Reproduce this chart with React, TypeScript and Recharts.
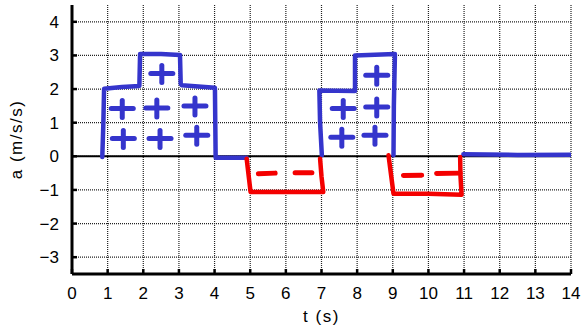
import React from 'react';
import {
  ComposedChart,
  Line,
  Scatter,
  XAxis,
  YAxis,
  CartesianGrid,
  ReferenceLine,
  Label,
} from 'recharts';

// Hand-drawn acceleration trace a(t): positive blocks in blue, negative blocks in red.
const blueStroke1 = [
  { t: 0.85, a: -0.02 },
  { t: 0.88, a: 1.0 },
  { t: 0.9, a: 2.01 },
  { t: 1.4, a: 2.06 },
  { t: 1.89, a: 2.09 },
  { t: 1.91, a: 3.04 },
  { t: 2.5, a: 3.04 },
  { t: 3.03, a: 3.01 },
  { t: 3.05, a: 2.16 },
  { t: 3.08, a: 2.11 },
  { t: 4.01, a: 2.04 },
  { t: 4.02, a: 1.0 },
  { t: 4.03, a: -0.04 },
  { t: 4.5, a: -0.04 },
  { t: 4.9, a: -0.04 },
];
const redStroke1 = [
  { t: 4.9, a: -0.07 },
  { t: 5.01, a: -1.06 },
  { t: 6.0, a: -1.06 },
  { t: 7.05, a: -1.06 },
  { t: 7.0, a: -0.6 },
  { t: 6.96, a: -0.07 },
];
const blueStroke2 = [
  { t: 7.01, a: 0.03 },
  { t: 6.96, a: 1.0 },
  { t: 6.94, a: 1.96 },
  { t: 7.94, a: 1.94 },
  { t: 7.94, a: 3.0 },
  { t: 8.5, a: 3.02 },
  { t: 9.06, a: 3.04 },
  { t: 9.03, a: 1.5 },
  { t: 9.02, a: 0.03 },
];
const redStroke2 = [
  { t: 8.88, a: 0.03 },
  { t: 9.02, a: -1.11 },
  { t: 10.0, a: -1.11 },
  { t: 10.93, a: -1.14 },
  { t: 10.9, a: -0.6 },
  { t: 10.89, a: -0.02 },
];
const blueStroke3 = [
  { t: 10.98, a: 0.06 },
  { t: 12.5, a: 0.04 },
  { t: 14.02, a: 0.05 },
];

// "+" marks inside the positive blocks
const plusMarks = [
  { t: 1.41, a: 1.42 },
  { t: 2.38, a: 1.44 },
  { t: 3.45, a: 1.5 },
  { t: 1.44, a: 0.53 },
  { t: 2.47, a: 0.53 },
  { t: 3.5, a: 0.63 },
  { t: 2.52, a: 2.46 },
  { t: 8.55, a: 2.41 },
  { t: 7.61, a: 1.42 },
  { t: 8.55, a: 1.47 },
  { t: 7.57, a: 0.57 },
  { t: 8.5, a: 0.63 },
];

// "−" dashes inside the negative blocks
const minusDashes = [
  [{ t: 5.23, a: -0.52 }, { t: 5.7, a: -0.5 }],
  [{ t: 6.26, a: -0.49 }, { t: 6.73, a: -0.49 }],
  [{ t: 9.3, a: -0.57 }, { t: 9.81, a: -0.56 }],
  [{ t: 10.23, a: -0.51 }, { t: 10.89, a: -0.5 }],
];

const xTicks = [0, 1, 2, 3, 4, 5, 6, 7, 8, 9, 10, 11, 12, 13, 14];
const yTicks = [-3, -2, -1, 0, 1, 2, 3, 4];
const xTitle = 't (s)';
const yTitle = 'a (m/s/s)';

const BLUE = '#3535cc';
const RED = '#f40000';
const FONT = '"Liberation Sans", Arial, Helvetica, sans-serif';

const PlusMark = (props: any) => {
  const { cx, cy } = props;
  return (
    <g stroke={BLUE} strokeWidth={5} strokeLinecap="round">
      <line x1={cx - 11} y1={cy} x2={cx + 11} y2={cy} />
      <line x1={cx} y1={cy - 8} x2={cx} y2={cy + 9} />
    </g>
  );
};

const minusLabel = (v: number) => (v < 0 ? `\u2212${Math.abs(v)}` : `${v}`);

const tickStyle = { fill: '#000', fontSize: 17, fontFamily: FONT };
const frameLine = { stroke: '#000', strokeWidth: 3 };
const tickLine = { stroke: '#000', strokeWidth: 2.5 };

export default function App() {
  return (
    <div style={{ position: 'absolute', left: 0, top: 0, background: '#fff' }}>
      <ComposedChart
        width={587}
        height={330}
        margin={{ top: 5, right: 16, bottom: 0, left: 0 }}
      >
        <CartesianGrid
          stroke="#222"
          strokeWidth={1.2}
          strokeDasharray="1 1"
          horizontalValues={yTicks}
          verticalValues={xTicks}
        />
        <XAxis
          type="number"
          dataKey="t"
          domain={[0, 14]}
          ticks={xTicks}
          interval={0}
          allowDataOverflow
          height={56}
          axisLine={frameLine}
          tickLine={tickLine}
          tickSize={-5}
          tickMargin={18}
          tick={tickStyle}
        >
          <Label
            content={(p: any) => {
              const vb = p.viewBox;
              return (
                <text
                  x={vb.x + vb.width / 2}
                  y={322}
                  textAnchor="middle"
                  fill="#000"
                  fontSize={17}
                  letterSpacing={1.5}
                  fontFamily={FONT}
                >
                  {xTitle}
                </text>
              );
            }}
          />
        </XAxis>
        <XAxis
          xAxisId="top"
          orientation="top"
          type="number"
          domain={[0, 14]}
          ticks={xTicks}
          interval={0}
          height={0}
          axisLine={frameLine}
          tickLine={tickLine}
          tickSize={-5}
          tickFormatter={() => ''}
        />
        <YAxis
          type="number"
          domain={[-3.5, 4.5]}
          ticks={yTicks}
          interval={0}
          allowDataOverflow
          width={72}
          axisLine={frameLine}
          tickLine={tickLine}
          tickSize={-5}
          tickMargin={18}
          tick={tickStyle}
          tickFormatter={minusLabel}
        >
          <Label
            content={(p: any) => {
              const vb = p.viewBox;
              const cy = vb.y + vb.height / 2;
              return (
                <text
                  x={16}
                  y={cy}
                  transform={`rotate(-90 16 ${cy})`}
                  textAnchor="middle"
                  dominantBaseline="central"
                  fill="#000"
                  fontSize={17}
                  letterSpacing={1.5}
                  fontFamily={FONT}
                >
                  {yTitle}
                </text>
              );
            }}
          />
        </YAxis>
        <YAxis
          yAxisId="right"
          orientation="right"
          type="number"
          domain={[-3.5, 4.5]}
          ticks={yTicks}
          interval={0}
          width={0}
          axisLine={frameLine}
          tickLine={tickLine}
          tickSize={-5}
          tickFormatter={() => ''}
        />
        <ReferenceLine y={0} stroke="#000" strokeWidth={2} />

        <Line
          data={blueStroke1}
          dataKey="a"
          stroke={BLUE}
          strokeWidth={4.5}
          strokeLinecap="round"
          strokeLinejoin="round"
          dot={false}
          isAnimationActive={false}
        />
        <Line
          data={blueStroke2}
          dataKey="a"
          stroke={BLUE}
          strokeWidth={4.5}
          strokeLinecap="round"
          strokeLinejoin="round"
          dot={false}
          isAnimationActive={false}
        />
        <Line
          data={blueStroke3}
          dataKey="a"
          stroke={BLUE}
          strokeWidth={4.5}
          strokeLinecap="round"
          strokeLinejoin="round"
          dot={false}
          isAnimationActive={false}
        />
        <Line
          data={redStroke1}
          dataKey="a"
          stroke={RED}
          strokeWidth={4.5}
          strokeLinecap="round"
          strokeLinejoin="round"
          dot={false}
          isAnimationActive={false}
        />
        <Line
          data={redStroke2}
          dataKey="a"
          stroke={RED}
          strokeWidth={4.5}
          strokeLinecap="round"
          strokeLinejoin="round"
          dot={false}
          isAnimationActive={false}
        />
        {minusDashes.map((d, i) => (
          <Line
            key={`minus-${i}`}
            data={d}
            dataKey="a"
            stroke={RED}
            strokeWidth={5}
            strokeLinecap="round"
            dot={false}
            isAnimationActive={false}
          />
        ))}
        <Scatter
          data={plusMarks}
          dataKey="a"
          shape={PlusMark}
          isAnimationActive={false}
        />
      </ComposedChart>
    </div>
  );
}
